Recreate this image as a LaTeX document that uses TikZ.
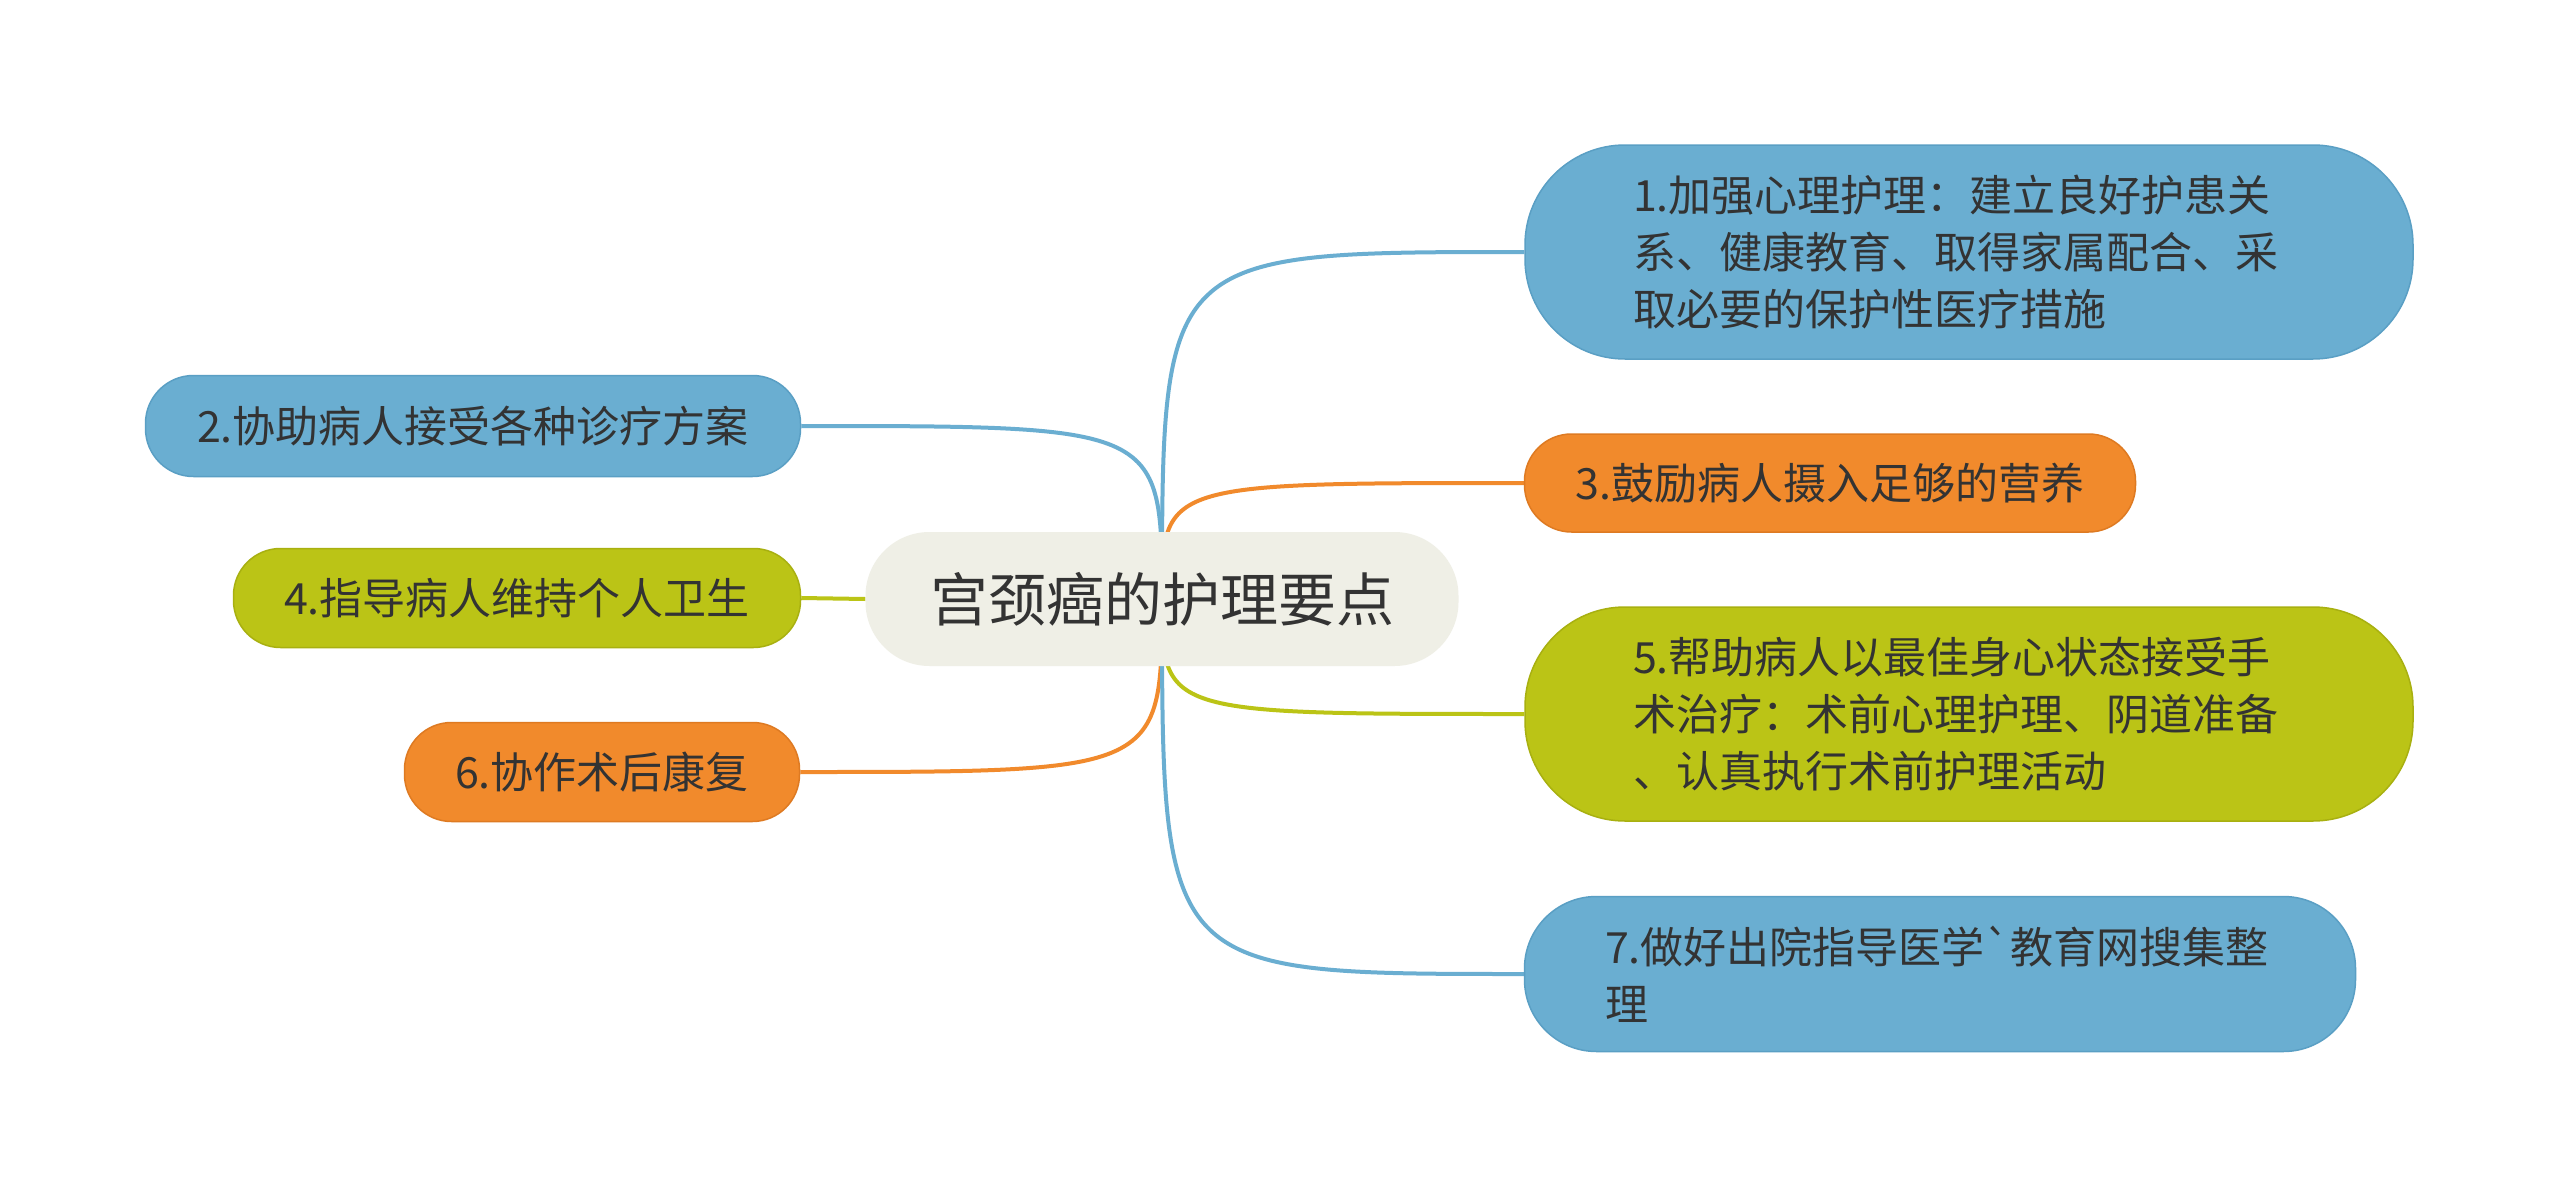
\documentclass[tikz,border=0pt]{standalone}
\usepackage{fontspec}
\setmainfont{Noto Sans CJK SC}[Ligatures=TeXOff]
\usetikzlibrary{backgrounds}
\definecolor{cblue}{HTML}{6AAED1}
\definecolor{cbluebd}{HTML}{5A9FC4}
\definecolor{cgreen}{HTML}{BBC416}
\definecolor{cgreenbd}{HTML}{A8B010}
\definecolor{corange}{HTML}{F18A2C}
\definecolor{corangebd}{HTML}{DE7A22}
\definecolor{ccenter}{HTML}{EFEFE6}
\definecolor{ctext}{HTML}{333333}
\begin{document}
\begin{tikzpicture}[x=1pt,y=-1pt,
  topic/.style={rectangle, inner sep=0pt, align=left, text=ctext,
    font=\fontsize{43pt}{57pt}\selectfont, line width=1.5pt},
  bluebox/.style={topic, fill=cblue, draw=cbluebd},
  greenbox/.style={topic, fill=cgreen, draw=cgreenbd},
  orangebox/.style={topic, fill=corange, draw=corangebd},
  centerbox/.style={rectangle, inner sep=0pt, fill=ccenter, text=ctext,
    font=\fontsize{58pt}{70pt}\selectfont},
  link/.style={line width=4pt}]
\useasboundingbox (0,0) rectangle (2560,1199);

\node[centerbox, minimum width=593pt, minimum height=134pt, rounded corners=64pt] (ctr) at (1162,599) {宫颈癌的护理要点};

\node[bluebox, text width=672pt, minimum width=888pt, minimum height=214pt, rounded corners=100pt] (n1) at (1969,252)
  {1.加强心理护理：建立良好护患关\\系、健康教育、取得家属配合、采\\取必要的保护性医疗措施};
\node[bluebox, minimum width=655pt, minimum height=101pt, rounded corners=48pt] (n2) at (473,426)
  {2.协助病人接受各种诊疗方案};
\node[orangebox, minimum width=611pt, minimum height=98pt, rounded corners=47pt] (n3) at (1830,483)
  {3.鼓励病人摄入足够的营养};
\node[greenbox, minimum width=567pt, minimum height=99pt, rounded corners=47pt] (n4) at (517,598)
  {4.指导病人维持个人卫生};
\node[greenbox, text width=672pt, minimum width=888pt, minimum height=214pt, rounded corners=100pt] (n5) at (1969,714)
  {5.帮助病人以最佳身心状态接受手\\术治疗：术前心理护理、阴道准备\\、认真执行术前护理活动};
\node[orangebox, minimum width=395pt, minimum height=99pt, rounded corners=47pt] (n6) at (602,772)
  {6.协作术后康复};
\node[bluebox, text width=670pt, minimum width=831pt, minimum height=155pt, rounded corners=72pt] (n7) at (1940,974)
  {7.做好出院指导医学`教育网搜集整\\理};

\begin{scope}[on background layer]
  \fill[white] (0,0) rectangle (2560,1199);
  \draw[link, cblue] (ctr.center) .. controls (ctr.center |- n1.west) .. (n1.west);
  \draw[link, cblue] (ctr.center) .. controls (ctr.center |- n2.east) .. (n2.east);
  \draw[link, corange] (ctr.center) .. controls (ctr.center |- n3.west) .. (n3.west);
  \draw[link, cgreen] (ctr.west) -- (n4.east);
  \draw[link, cgreen] (ctr.center) .. controls (ctr.center |- n5.west) .. (n5.west);
  \draw[link, corange] (ctr.center) .. controls (ctr.center |- n6.east) .. (n6.east);
  \draw[link, cblue] (ctr.center) .. controls (ctr.center |- n7.west) .. (n7.west);
\end{scope}
\end{tikzpicture}
\end{document}
